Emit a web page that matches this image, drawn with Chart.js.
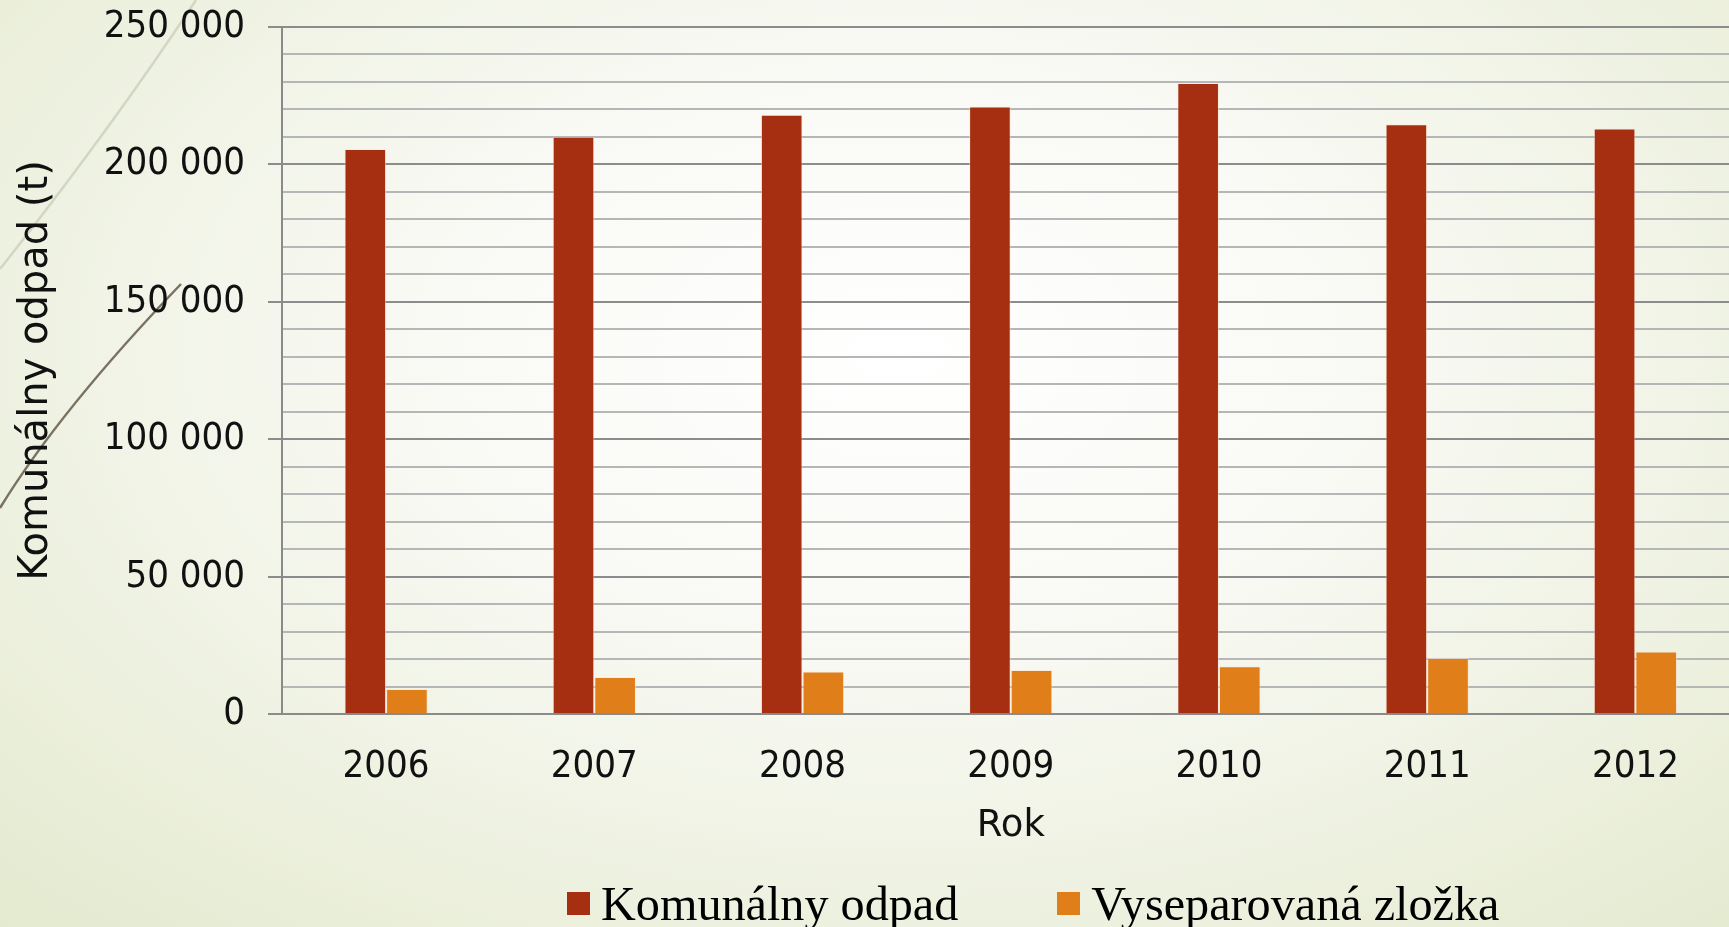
<!DOCTYPE html>
<html>
<head>
<meta charset="utf-8">
<script src="https://cdn.jsdelivr.net/npm/chart.js@4.4.1/dist/chart.umd.min.js"></script>
<style>
  html, body { margin: 0; padding: 0; width: 1729px; height: 927px; overflow: hidden; }
  body { background: radial-gradient(ellipse 75% 85% at 52% 38%, #ffffff 0%, #f9faf5 35%, #e4eacf 100%); position: relative; }
  #deco { position: absolute; left: 0; top: 0; width: 1729px; height: 927px; }
  #wrap { position: absolute; left: 0; top: 0; width: 1745px; height: 927px; }
  #legend { position: absolute; left: 567px; top: 880px; height: 47px; display: flex; align-items: center;
            font-family: 'Liberation Serif', 'Times New Roman', serif; font-size: 48.2px; line-height: 47px; color: #000; white-space: nowrap; }
  .item { display: flex; align-items: center; margin-right: 99px; }
  .box { width: 23px; height: 23px; margin-right: 11px; }
</style>
</head>
<body>
<svg id="deco" viewBox="0 0 1729 927">
  <path d="M0,269 Q110,130 196,0" stroke="#d3d6c2" stroke-width="2.5" fill="none"/>
  <path d="M0,508 Q60,410 181,284" stroke="#7b7261" stroke-width="2.5" fill="none"/>
</svg>
<div id="wrap"><canvas id="c" width="1745" height="927"></canvas></div>
<div id="legend"></div>
<script>
// ---- data ----
const years = ['2006', '2007', '2008', '2009', '2010', '2011', '2012'];
const komunalnyOdpad = [205500, 210000, 218000, 221000, 229500, 214500, 213000];
const vyseparovanaZlozka = [9200, 13600, 15600, 16100, 17500, 20500, 22800];
const seriesNames = ['Komunálny odpad', 'Vyseparovaná zložka'];
const yMajorTicks = [0, 50000, 100000, 150000, 200000, 250000];
const yTitle = 'Komunálny odpad (t)';
const xTitle = 'Rok';

const colRed = '#a62f11';
const colOrange = '#e07e1a';
const fmt = v => String(v).replace(/\B(?=(\d{3})+(?!\d))/g, ' ');
const tickFont = { family: "'DejaVu Sans Condensed', 'DejaVu Sans', sans-serif", size: 38 };
const isMajor = c => c.tick && yMajorTicks.includes(c.tick.value);

const chart = new Chart(document.getElementById('c'), {
  type: 'bar',
  data: {
    labels: years,
    datasets: [
      { label: seriesNames[0], data: komunalnyOdpad, backgroundColor: colRed, borderColor: 'rgba(255,225,205,0.55)', borderWidth: 1 },
      { label: seriesNames[1], data: vyseparovanaZlozka, backgroundColor: colOrange, borderColor: 'rgba(255,225,205,0.55)', borderWidth: 1 }
    ]
  },
  options: {
    responsive: false,
    animation: false,
    layout: { padding: { left: 0, right: 5.5, top: 26.7, bottom: 0 } },
    plugins: { legend: { display: false }, tooltip: { enabled: false } },
    datasets: { bar: { categoryPercentage: 0.4, barPercentage: 1.0 } },
    scales: {
      x: {
        offset: true,
        grid: { display: false, drawTicks: false },
        border: { display: true, color: '#8a8a8a', width: 2 },
        ticks: { color: '#111', font: tickFont, padding: 30, maxRotation: 0 },
        title: { display: true, text: xTitle, color: '#111',
                 font: { family: "'DejaVu Sans', sans-serif", size: 37 }, padding: { top: 0, bottom: 78 } },
        afterFit: s => { s.height = 212.7; s.paddingLeft = 0; s.paddingRight = 0; }
      },
      y: {
        min: 0, max: 250000,
        grid: {
          color: c => isMajor(c) ? '#8c8c8c' : '#b6b6b6',
          lineWidth: 2,
          tickColor: c => isMajor(c) ? '#8c8c8c' : 'rgba(0,0,0,0)',
          tickLength: 14, drawTicks: true
        },
        border: { display: true, color: '#8a8a8a', width: 2 },
        ticks: {
          stepSize: 10000, color: '#111', font: tickFont, padding: 23, autoSkip: false,
          callback: v => yMajorTicks.includes(v) ? fmt(v) : ''
        },
        title: { display: true, text: yTitle, color: '#111',
                 font: { family: "'DejaVu Sans', sans-serif", size: 40 }, padding: { top: 13, bottom: 0 } },
        afterFit: s => { s.width = 282; s.paddingTop = 0; s.paddingBottom = 0; }
      }
    }
  }
});

// legend built from the chart's datasets
const lg = document.getElementById('legend');
chart.data.datasets.forEach(ds => {
  const it = document.createElement('div'); it.className = 'item';
  const b = document.createElement('div'); b.className = 'box'; b.style.background = ds.backgroundColor;
  const t = document.createElement('span'); t.textContent = ds.label;
  it.appendChild(b); it.appendChild(t); lg.appendChild(it);
});
</script>
</body>
</html>
